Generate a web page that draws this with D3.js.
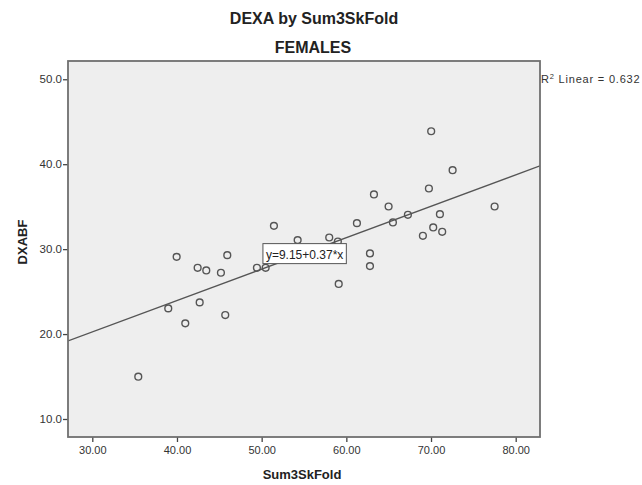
<!DOCTYPE html>
<html>
<head>
<meta charset="utf-8">
<script src="https://cdn.jsdelivr.net/npm/d3@7"></script>
<style>
  html, body { margin: 0; padding: 0; background: #ffffff; }
  svg { display: block; font-family: "Liberation Sans", Arial, Helvetica, sans-serif; }
</style>
</head>
<body>
<svg id="chart" width="642" height="485"></svg>
<script>
// Sum3SkFold (x) against DXABF (y), female subjects
const sum3SkFold = [51.45, 54.25, 57.98, 59.0, 39.96, 45.94, 42.44, 43.46, 45.19, 49.44, 50.47,
  38.97, 42.68, 40.98, 45.70, 35.43, 59.1, 70.02, 72.55, 69.75, 63.26, 64.99, 77.51, 61.25,
  65.50, 67.27, 71.05, 70.26, 71.32, 69.04, 62.79, 62.79];
const dxabf = [32.74, 31.06, 31.37, 30.9, 29.09, 29.29, 27.80, 27.49, 27.22, 27.80, 27.80,
  23.02, 23.73, 21.26, 22.24, 14.98, 25.9, 43.88, 39.29, 37.14, 36.44, 35.02, 35.02, 33.06,
  33.14, 34.04, 34.12, 32.55, 32.04, 31.57, 29.49, 28.00];

const xTicks = [30, 40, 50, 60, 70, 80];
const yTicks = [10, 20, 30, 40, 50];

// Fitted linear model
const intercept = 9.15;
const slope = 0.37;
const rSquared = 0.632;
const fitLabel = "y=9.15+0.37*x";

const chartTitle = "DEXA by Sum3SkFold";
const chartSubtitle = "FEMALES";
const xTitle = "Sum3SkFold";
const yTitle = "DXABF";

const plot = { left: 68, right: 540, top: 61, bottom: 437 };

const svg = d3.select("#chart");

const x = d3.scaleLinear().domain([27.13, 82.87]).range([plot.left, plot.right]);
const y = d3.scaleLinear().domain([7.88, 52.15]).range([plot.bottom, plot.top]);

// Plot frame
svg.append("rect")
  .attr("x", plot.left).attr("y", plot.top)
  .attr("width", plot.right - plot.left).attr("height", plot.bottom - plot.top)
  .attr("fill", "#eeeeee");

svg.append("defs").append("clipPath").attr("id", "plotClip")
  .append("rect")
  .attr("x", plot.left).attr("y", plot.top)
  .attr("width", plot.right - plot.left).attr("height", plot.bottom - plot.top);

// Titles
svg.append("text").attr("x", 314).attr("y", 24)
  .attr("text-anchor", "middle").attr("font-size", 16).attr("font-weight", "bold")
  .attr("fill", "#222").text(chartTitle);
svg.append("text").attr("x", 313).attr("y", 53)
  .attr("text-anchor", "middle").attr("font-size", 16).attr("font-weight", "bold")
  .attr("fill", "#222").text(chartSubtitle);

// Axes
const xAxis = d3.axisBottom(x).tickValues(xTicks).tickFormat(d3.format(".2f"))
  .tickSize(5).tickSizeOuter(0);
const yAxis = d3.axisLeft(y).tickValues(yTicks).tickFormat(d3.format(".1f"))
  .tickSize(5).tickSizeOuter(0);

const gx = svg.append("g").attr("transform", `translate(0,${plot.bottom})`).call(xAxis);
const gy = svg.append("g").attr("transform", `translate(${plot.left},0)`).call(yAxis);

[gx, gy].forEach(g => {
  g.select(".domain").remove();
  g.selectAll(".tick line").attr("stroke", "#444").attr("stroke-width", 1.3);
  g.selectAll(".tick text").attr("fill", "#333")
    .attr("font-family", "'Liberation Sans', Arial, sans-serif");
});
gx.selectAll(".tick text").attr("font-size", 11).attr("dy", "0.71em").attr("y", 9);
gy.selectAll(".tick text").attr("font-size", 11.5).attr("x", -6);

// Regression line
const fitLine = d3.line().x(d => x(d)).y(d => y(intercept + slope * d));
svg.append("path")
  .attr("clip-path", "url(#plotClip)")
  .attr("d", fitLine(x.domain()))
  .attr("fill", "none").attr("stroke", "#555").attr("stroke-width", 1.4);

// Points
const pts = sum3SkFold.map((v, i) => ({ x: v, y: dxabf[i] }));
svg.append("g").selectAll("circle").data(pts).join("circle")
  .attr("cx", d => x(d.x)).attr("cy", d => y(d.y)).attr("r", 3.4)
  .attr("fill", "none").attr("stroke", "#555").attr("stroke-width", 1.4);

// Equation label sitting on the fit line
const labelX = 50.15;
const lg = svg.append("g")
  .attr("transform", `translate(${x(labelX)},${y(intercept + slope * labelX) - 5})`);
const eqText = lg.append("text").attr("x", 3).attr("y", -5)
  .attr("font-size", 12).attr("fill", "#222").text(fitLabel);
const bb = eqText.node().getBBox();
lg.insert("rect", "text")
  .attr("x", 0).attr("y", -20).attr("width", bb.width + 6).attr("height", 20)
  .attr("fill", "#ffffff").attr("stroke", "#555").attr("stroke-width", 1);

// Frame border drawn over the marks
svg.append("rect")
  .attr("x", plot.left).attr("y", plot.top)
  .attr("width", plot.right - plot.left).attr("height", plot.bottom - plot.top)
  .attr("fill", "none").attr("stroke", "#6f6f6f").attr("stroke-width", 1.8);

// R squared note
const rNote = svg.append("text").attr("x", 541).attr("y", 83)
  .attr("font-size", 11).attr("letter-spacing", 0.8).attr("fill", "#333");
rNote.append("tspan").text("R");
rNote.append("tspan").attr("dy", -4).attr("font-size", 7.5).text("2");
rNote.append("tspan").attr("dy", 4).text(" Linear = " + rSquared.toFixed(3));

// Axis titles
svg.append("text").attr("x", 302).attr("y", 479)
  .attr("text-anchor", "middle").attr("font-size", 13).attr("font-weight", "bold")
  .attr("fill", "#222").text(xTitle);
svg.append("text")
  .attr("transform", "translate(27,242) rotate(-90)")
  .attr("text-anchor", "middle").attr("font-size", 13).attr("font-weight", "bold")
  .attr("fill", "#222").text(yTitle);
</script>
</body>
</html>
